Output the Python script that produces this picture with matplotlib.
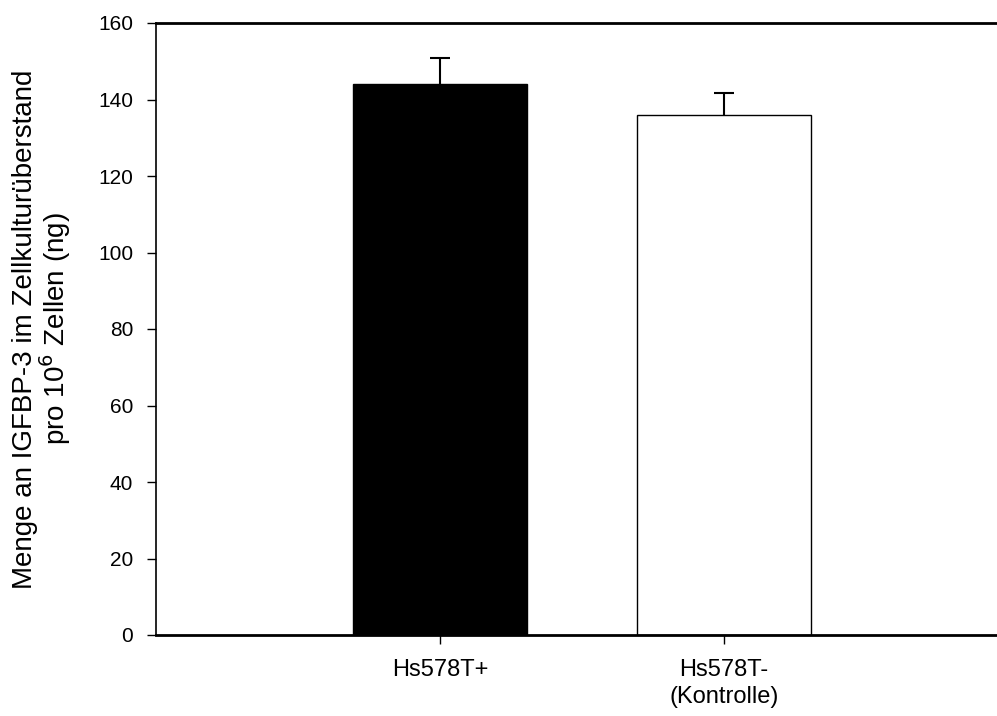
import matplotlib
matplotlib.use('Agg')
from matplotlib import pyplot as plt
import numpy as np

# data
categories = ['Hs578T+', 'Hs578T-\n(Kontrolle)']
means = [144.0, 135.9]
errors = [6.9, 5.9]
colors = ['black', 'white']

plt.rcParams['font.family'] = ['Liberation Sans', 'DejaVu Sans']

W, H = 997, 716
fig = plt.figure(figsize=(W / 100, H / 100), dpi=100)
left, right, top, bottom = 156, 1008, 23, 635
ax = fig.add_axes([left / W, 1 - bottom / H, (right - left) / W, (bottom - top) / H])

x = np.arange(1, len(categories) + 1)
ax.bar(x, means, width=0.613, color=colors, edgecolor='black', linewidth=1.0, zorder=2)
eb = ax.errorbar(x, means, yerr=[np.zeros(len(errors)), errors], fmt='none',
                 ecolor='black', elinewidth=1.5, capsize=7, capthick=1.5, zorder=1)
# only the upper cap is drawn
eb[1][0].set_visible(False)

ax.set_xlim(0, 3)
ax.set_ylim(0, 160)
ax.set_yticks(np.arange(0, 161, 20))
ax.set_xticks(x)
ax.set_xticklabels(categories, fontsize=17, linespacing=1.3)
ax.tick_params(axis='y', labelsize=15, direction='out', length=6.5, width=1, pad=10)
ax.tick_params(axis='x', direction='out', length=6.5, width=1, pad=11)

ax.spines['right'].set_visible(False)
ax.spines['top'].set_linewidth(2)
ax.spines['bottom'].set_linewidth(2)
ax.spines['left'].set_linewidth(1.2)

ax.set_ylabel('Menge an IGFBP-3 im Zellkulturüberstand\npro 10$^6$ Zellen (ng)',
              fontsize=20, linespacing=0.95)
ax.yaxis.set_label_coords(-0.098, 0.5)

fig.savefig('out.png', dpi=100)
